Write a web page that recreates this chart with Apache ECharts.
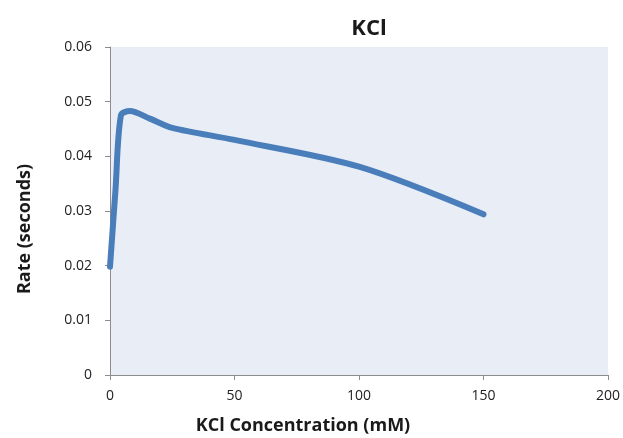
<!DOCTYPE html>
<html>
<head>
<meta charset="utf-8">
<script src="https://cdn.jsdelivr.net/npm/echarts@6/dist/echarts.min.js"></script>
<style>
  html, body { margin: 0; padding: 0; background: #fff; }
  #chart { width: 623px; height: 438px; }
</style>
</head>
<body>
<div id="chart"></div>
<script>
// KCl concentration (mM) vs rate
const concentration = [0, 2.2, 4.4, 8, 16, 25, 50, 100, 150];
const rate = [0.0198, 0.0338, 0.0475, 0.0483, 0.0469, 0.0452, 0.0430, 0.0381, 0.0294];
const xTicks = [0, 50, 100, 150, 200];
const yTicks = [0, 0.01, 0.02, 0.03, 0.04, 0.05, 0.06];

const font = '"Open Sans", "Liberation Sans", sans-serif';
const points = concentration.map((c, i) => [c, rate[i]]);

const myChart = echarts.init(document.getElementById('chart'));
myChart.setOption({
  animation: false,
  title: {
    text: 'KCl',
    left: 364,
    textAlign: 'center',
    top: 13,
    textStyle: { fontFamily: font, fontSize: 22, fontWeight: 'bold', color: '#1a1a1a' }
  },
  // axis titles sit where the original put them (not centred on the axes)
  graphic: [
    {
      type: 'text',
      x: 303, y: 426,
      style: {
        text: 'KCl Concentration (mM)',
        font: 'bold 18px ' + font,
        fill: '#1a1a1a',
        align: 'center', verticalAlign: 'middle'
      }
    },
    {
      type: 'text',
      x: 25, y: 229,
      rotation: Math.PI / 2,
      style: {
        text: 'Rate (seconds)',
        font: 'bold 18px ' + font,
        fill: '#1a1a1a',
        align: 'center', verticalAlign: 'middle'
      }
    }
  ],
  grid: {
    left: 110, right: 11, top: 47, bottom: 63,
    show: true,
    backgroundColor: '#E9EEF6',
    borderWidth: 0
  },
  xAxis: {
    type: 'value',
    min: xTicks[0], max: xTicks[xTicks.length - 1], interval: 50,
    axisLine: { show: true, lineStyle: { color: '#8c8c8c', width: 1 } },
    axisTick: { show: true, length: 5, lineStyle: { color: '#8c8c8c' } },
    axisLabel: { fontFamily: font, fontSize: 14, color: '#222', margin: 14 },
    splitLine: { show: false }
  },
  yAxis: {
    type: 'value',
    min: yTicks[0], max: yTicks[yTicks.length - 1], interval: 0.01,
    axisLine: { show: true, lineStyle: { color: '#8c8c8c', width: 1 } },
    axisTick: { show: true, length: 5, lineStyle: { color: '#8c8c8c' } },
    axisLabel: {
      fontFamily: font, fontSize: 14, color: '#222', margin: 18,
      formatter: v => v === 0 ? '0' : v.toFixed(2)
    },
    splitLine: { show: false }
  },
  series: [{
    type: 'line',
    data: points,
    smooth: 0.3,
    symbol: 'none',
    lineStyle: { color: '#4A7EBB', width: 6, cap: 'round', join: 'round' }
  }]
});
</script>
</body>
</html>
